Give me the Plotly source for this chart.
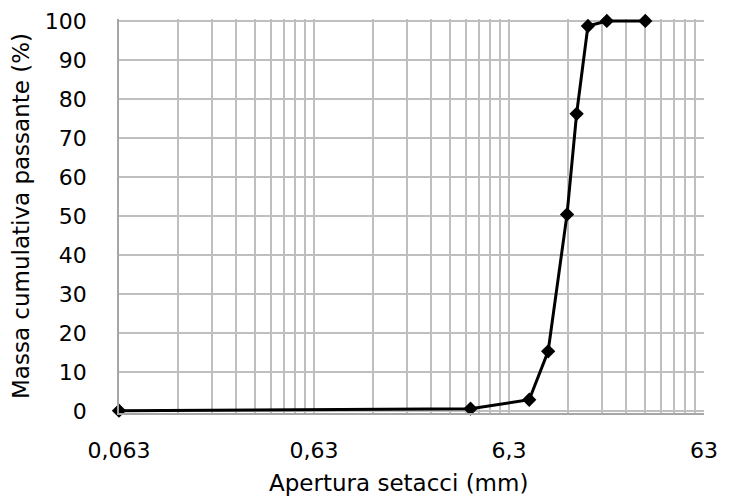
import numpy as np
import plotly.graph_objects as go

# Sieve openings (mm) and cumulative passing (%)
sieve_mm = [0.063, 4, 8, 10, 12.5, 14, 16, 20, 31.5]
passing_pct = [0.1, 0.6, 2.9, 15.3, 50.4, 76.2, 98.7, 100, 100]

major_ticks = [0.063, 0.63, 6.3, 63]
major_labels = ["0,063", "0,63", "6,3", "63"]

x_title = "Apertura setacci (mm)"
y_title = "Massa cumulativa passante (%)"

# grid positions: k * major for k=1..9 in each decade
grid_vals, grid_text = [], []
for m, lab in zip(major_ticks, major_labels):
    grid_vals.append(m)
    grid_text.append(lab)
    if m < 63:
        for k in range(2, 10):
            grid_vals.append(m * k)
            grid_text.append("")

font_family = "DejaVu Sans, Verdana, sans-serif"

fig = go.Figure()
fig.add_trace(go.Scatter(
    x=sieve_mm, y=passing_pct, mode="lines+markers",
    line=dict(color="black", width=3),
    marker=dict(symbol="diamond", size=11, color="black"),
    showlegend=False, cliponaxis=False,
))

fig.update_layout(
    width=736, height=499,
    margin=dict(l=111, r=40, t=11, b=94, autoexpand=False),
    paper_bgcolor="white", plot_bgcolor="white",
    font=dict(family=font_family, size=20, color="black"),
    xaxis=dict(
        type="log",
        range=[np.log10(0.063), np.log10(63)],
        tickmode="array", tickvals=grid_vals, ticktext=grid_text,
        showgrid=True, gridcolor="#bfbfbf", gridwidth=1.5,
        showline=True, linecolor="#a6a6a6", linewidth=1.5,
        zeroline=False, ticks="", ticklen=0,
        tickfont=dict(size=22),
        ticklabelstandoff=17,
        automargin=False,
    ),
    yaxis=dict(
        range=[-0.5, 100.5], tickmode="array",
        tickvals=list(range(0, 101, 10)),
        showgrid=True, gridcolor="#bfbfbf", gridwidth=1.5,
        showline=True, linecolor="#a6a6a6", linewidth=1.5,
        zeroline=False, ticks="",
        tickfont=dict(size=22),
        ticklabelstandoff=26,
        automargin=False,
        title=dict(text=y_title, font=dict(size=23), standoff=10),
    ),
    annotations=[dict(
        text=x_title, xref="paper", yref="paper", x=0.477, y=0,
        xanchor="center", yanchor="middle", yshift=-70,
        showarrow=False, font=dict(size=23),
    )],
)

fig.write_html("out.html")
